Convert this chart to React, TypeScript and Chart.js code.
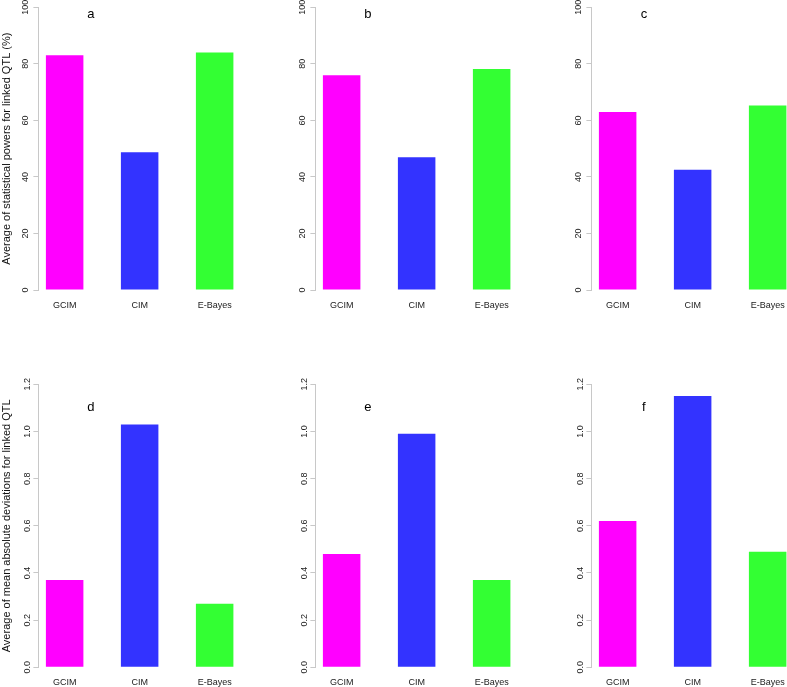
import React, { useEffect, useRef } from "react";
import { Chart, registerables } from "chart.js";

Chart.register(...registerables);

const categories = ["GCIM", "CIM", "E-Bayes"];
const powerA = [83, 48.7, 84];
const powerB = [76, 47, 78.2];
const powerC = [63, 42.5, 65.3];
const madD = [0.37, 1.03, 0.27];
const madE = [0.48, 0.99, 0.37];
const madF = [0.62, 1.15, 0.49];
const powerTicks = [0, 20, 40, 60, 80, 100];
const madTicks = [0, 0.2, 0.4, 0.6, 0.8, 1.0, 1.2];
const barColors = ["#FF00FF", "#3333FF", "#33FF33"];
const powerTitle = "Average of statistical powers for linked QTL (%)";
const madTitle = "Average of mean absolute deviations for linked QTL";

const FAMILY = '"Liberation Sans", Arial, Helvetica, sans-serif';
const AREA_LEFT = 38.4;
const AREA_W = 202.5;
const PANEL_W = 276;

type PanelProps = {
  left: number;
  top: number;
  height: number;
  values: number[];
  yTicks: number[];
  decimals: number;
  title?: string;
  letter: string;
  letterY: number;
  padTop: number;
  areaBottom: number;
};

function Panel(p: PanelProps) {
  const ref = useRef<HTMLCanvasElement>(null);
  useEffect(() => {
    if (!ref.current) return;
    const positions = categories.map((_, i) => 1.5 + 2 * i);
    const letterPlugin = {
      id: "panelLetter",
      afterDatasetsDraw(chart: any) {
        const { ctx, scales } = chart;
        ctx.save();
        ctx.font = `13px ${FAMILY}`;
        ctx.fillStyle = "#000";
        ctx.textAlign = "center";
        ctx.textBaseline = "middle";
        ctx.fillText(p.letter, scales.x.getPixelForValue(2.2), scales.y.getPixelForValue(p.letterY));
        ctx.restore();
      },
    };
    const chart = new Chart(ref.current, {
      type: "bar",
      data: {
        datasets: [
          {
            data: p.values.map((v, i) => ({ x: positions[i], y: v })),
            backgroundColor: barColors,
            borderWidth: 0,
            categoryPercentage: 0.5,
            barPercentage: 1,
          } as any,
        ],
      },
      options: {
        animation: false,
        responsive: false,
        devicePixelRatio: 1,
        layout: {
          padding: { left: 0, right: PANEL_W - AREA_LEFT - AREA_W, top: p.padTop, bottom: 0 },
        },
        plugins: { legend: { display: false }, tooltip: { enabled: false } },
        scales: {
          x: {
            type: "linear",
            min: 0.8,
            max: 6.2,
            offset: false,
            grid: { display: false, drawTicks: false },
            border: { display: false },
            afterBuildTicks: (s: any) => {
              s.ticks = positions.map((v) => ({ value: v }));
            },
            afterFit: (s: any) => {
              s.height = p.height - p.areaBottom;
            },
            ticks: {
              autoSkip: false,
              maxRotation: 0,
              minRotation: 0,
              padding: 10,
              color: "#222",
              font: { size: 9, family: FAMILY },
              callback: (v: any) => {
                const i = positions.indexOf(Number(v));
                return i >= 0 ? categories[i] : "";
              },
            },
          },
          y: {
            type: "linear",
            min: 0,
            max: p.yTicks[p.yTicks.length - 1],
            afterBuildTicks: (s: any) => {
              s.ticks = p.yTicks.map((v) => ({ value: v }));
            },
            afterFit: (s: any) => {
              s.width = AREA_LEFT;
            },
            grid: {
              display: true,
              drawOnChartArea: false,
              drawTicks: true,
              tickLength: 5,
              color: "#c8c8c8",
            },
            border: { display: true, color: "#c8c8c8", width: 1 },
            ticks: {
              minRotation: 90,
              maxRotation: 90,
              crossAlign: "center",
              padding: 0,
              color: "#222",
              font: { size: 9, family: FAMILY },
              callback: (v: any) => Number(v).toFixed(p.decimals),
            },
            title: {
              display: !!p.title,
              text: p.title ?? "",
              color: "#111",
              font: { size: 11, family: FAMILY },
              padding: 0,
            },
          } as any,
        },
      },
      plugins: [letterPlugin],
    });
    return () => chart.destroy();
  }, []);
  return (
    <canvas
      ref={ref}
      width={PANEL_W}
      height={p.height}
      style={{ position: "absolute", left: p.left, top: p.top, width: PANEL_W, height: p.height }}
    />
  );
}

export default function App() {
  const lefts = [0, 277, 553];
  const topRow = [powerA, powerB, powerC];
  const bottomRow = [madD, madE, madF];
  const topLetters = ["a", "b", "c"];
  const bottomLetters = ["d", "e", "f"];
  return (
    <div
      style={{
        position: "absolute",
        left: 0,
        top: 0,
        width: 787,
        height: 687,
        overflow: "hidden",
        background: "#fff",
      }}
    >
      {topRow.map((vals, i) => (
        <Panel
          key={"t" + i}
          left={lefts[i]}
          top={0}
          height={330}
          values={vals}
          yTicks={powerTicks}
          decimals={0}
          title={i === 0 ? powerTitle : undefined}
          letter={topLetters[i]}
          letterY={97.5}
          padTop={7.3}
          areaBottom={290}
        />
      ))}
      {bottomRow.map((vals, i) => (
        <Panel
          key={"b" + i}
          left={lefts[i]}
          top={330}
          height={357}
          values={vals}
          yTicks={madTicks}
          decimals={1}
          title={i === 0 ? madTitle : undefined}
          letter={bottomLetters[i]}
          letterY={1.1}
          padTop={54.3}
          areaBottom={337.3}
        />
      ))}
    </div>
  );
}
